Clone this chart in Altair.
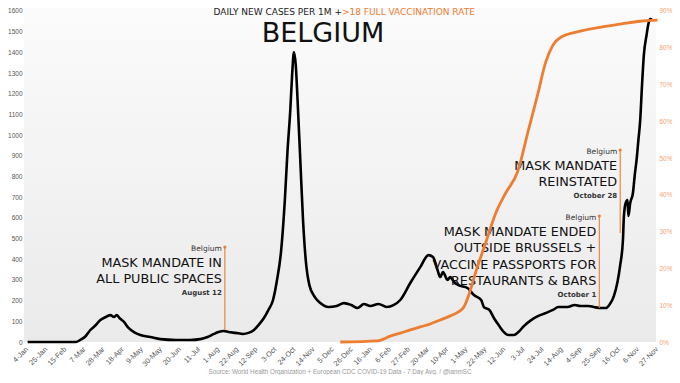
import altair as alt
import pandas as pd

ORANGE = "#ED7D31"

# ---- daily new cases per 1M (7-day avg) ----
case_dates = [
    "2020-01-08", "2020-03-01", "2020-03-06", "2020-03-12", "2020-03-17", "2020-03-23",
    "2020-03-28", "2020-04-03", "2020-04-08", "2020-04-12", "2020-04-15", "2020-04-18",
    "2020-04-23", "2020-04-28", "2020-05-04", "2020-05-11", "2020-05-22", "2020-06-02",
    "2020-06-19", "2020-07-05", "2020-07-16", "2020-07-24", "2020-07-31", "2020-08-05",
    "2020-08-11", "2020-08-16", "2020-08-24", "2020-09-01", "2020-09-07", "2020-09-13",
    "2020-09-18", "2020-09-24", "2020-09-29", "2020-10-04", "2020-10-08", "2020-10-13",
    "2020-10-17", "2020-10-20", "2020-10-23", "2020-10-25", "2020-10-27", "2020-10-29",
    "2020-10-31", "2020-11-03", "2020-11-06", "2020-11-09", "2020-11-13", "2020-11-19",
    "2020-11-25", "2020-12-04", "2020-12-13", "2020-12-21", "2020-12-29",
    "2021-01-05", "2021-01-12", "2021-01-19", "2021-01-28", "2021-02-06", "2021-02-14",
    "2021-02-21", "2021-03-04", "2021-03-15", "2021-03-24", "2021-03-29", "2021-04-03",
    "2021-04-06", "2021-04-09", "2021-04-14", "2021-04-17", "2021-04-21", "2021-04-26",
    "2021-05-06", "2021-05-13", "2021-05-21", "2021-05-24", "2021-05-30", "2021-06-04",
    "2021-06-10", "2021-06-15", "2021-06-20", "2021-06-26", "2021-07-01", "2021-07-07",
    "2021-07-15", "2021-07-23", "2021-07-31", "2021-08-08", "2021-08-14", "2021-08-24",
    "2021-09-01", "2021-09-07", "2021-09-16", "2021-09-22", "2021-09-30", "2021-10-05",
    "2021-10-09", "2021-10-14", "2021-10-18", "2021-10-21", "2021-10-24", "2021-10-25",
    "2021-10-27", "2021-10-29", "2021-10-30", "2021-11-01", "2021-11-04", "2021-11-06",
    "2021-11-08", "2021-11-10", "2021-11-12", "2021-11-14", "2021-11-16", "2021-11-19",
    "2021-11-21", "2021-11-23", "2021-11-25",
]
case_values = [
    0, 0, 10, 29, 58, 82,
    106, 121, 130, 121, 130, 116,
    97, 68, 48, 34, 24, 14,
    10, 10, 14, 24, 39, 48,
    53, 48, 44, 39, 44, 58,
    82, 116, 155, 203, 290, 445,
    686, 928, 1121, 1290, 1402, 1339,
    1170, 880, 590, 396, 275, 217,
    188, 169, 174, 188, 179,
    164, 184, 174, 184, 169, 179,
    203, 285, 362, 420, 411, 348,
    314, 338, 300, 314, 290, 275,
    261, 227, 203, 169, 155, 116,
    77, 48, 34, 34, 48, 77,
    106, 126, 140, 155, 169, 169,
    179, 174, 174, 169, 164, 164,
    179, 222, 290, 372, 493, 604,
    672, 686, 609, 672, 720, 807,
    880, 976, 1073, 1242, 1387, 1484,
    1537, 1561, 1556,
]
assert len(case_dates) == len(case_values)

# ---- >18 full vaccination rate (%) ----
vax_dates = [
    "2020-12-17", "2021-01-27", "2021-02-10", "2021-02-21", "2021-03-04", "2021-03-15",
    "2021-03-26", "2021-04-06", "2021-04-17", "2021-04-26", "2021-05-02", "2021-05-07",
    "2021-05-15", "2021-05-26", "2021-06-06", "2021-06-17", "2021-06-30", "2021-07-12",
    "2021-07-22", "2021-07-31", "2021-08-08", "2021-08-17", "2021-09-07", "2021-09-30",
    "2021-10-21", "2021-11-12", "2021-12-01",
]
vax_values = [
    0, 0.3, 1.6, 2.4, 3.3, 4.1,
    4.9, 6.0, 7.1, 8.2, 9.5, 12.5,
    19.0, 27.0, 35.0, 40.5, 46.2, 57.6,
    67.1, 76.1, 80.7, 82.9, 84.5, 85.6,
    86.4, 87.2, 87.5,
]
assert len(vax_dates) == len(vax_values)

# ---- annotations ----
ann_dates = ["2020-08-12", "2021-09-28", "2021-10-21"]
ann_top = [459, 609, 928]
ann_bottom = [58, 164, 527]
ann_country = ["Belgium", "Belgium", "Belgium"]
ann_lines = [
    ["MASK MANDATE IN", "ALL PUBLIC SPACES"],
    ["MASK MANDATE ENDED", "OUTSIDE BRUSSELS +", "VACCINE PASSPORTS FOR", "RESTAURANTS & BARS"],
    ["MASK MANDATE", "REINSTATED"],
]
ann_labels = ["August 12", "October 1", "October 28"]

tick_dates = pd.date_range("2020-01-04", "2021-11-27", freq="21D")
left_ticks = list(range(0, 1700, 100))
right_ticks = list(range(0, 100, 10))

# ---- layout ----
W, H = 632, 334
Y_MAX = 1614.5
V_MAX = 90.8
UPP = Y_MAX / H  # data units per pixel on the left scale


def ms(s):
    return int(pd.Timestamp(s, tz="UTC").value // 10**6)


x_dom = [ms("2020-01-04"), ms("2021-11-29 09:00")]
x_scale = alt.Scale(type="utc", domain=x_dom, nice=False)
y_scale = alt.Scale(domain=[0, Y_MAX], nice=False, zero=True)
v_scale = alt.Scale(domain=[0, V_MAX], nice=False, zero=True)

cases = pd.DataFrame({"date": case_dates, "value": case_values})
vax = pd.DataFrame({"date": vax_dates, "pct": vax_values})
ann = pd.DataFrame({"date": ann_dates, "top": ann_top, "bottom": ann_bottom})

rows_small, rows_big, rows_lab = [], [], []
for d, t, c, lines, lab in zip(ann_dates, ann_top, ann_country, ann_lines, ann_labels):
    rows_small.append({"date": d, "y": t - 2 * UPP, "t": c})
    for i, ln in enumerate(lines):
        rows_big.append({"date": d, "y": t - (16 + 16.3 * i) * UPP, "t": ln})
    rows_lab.append({"date": d, "y": t - (16 + 16.3 * (len(lines) - 1) + 14) * UPP, "t": lab})

X_AXIS = alt.Axis(
    values=[ms(d) for d in tick_dates], labelExpr="utcFormat(datum.value, '%-d-%b')",
    labelAngle=-45, labelFontSize=7.3, labelColor="#555", labelFont="Liberation Sans",
    labelPadding=3, labelFlush=False, labelOverlap=False, title=None,
    domain=False, ticks=False, grid=False)
Y_AXIS = alt.Axis(
    values=left_ticks, orient="left", title=None, labelExpr="format(datum.value, 'd')",
    labelFontSize=6.5, labelColor="#555",
    labelFont="Liberation Sans", labelPadding=2, domain=False, ticks=False, grid=False,
    labelOverlap=False)
V_AXIS = alt.Axis(
    values=right_ticks, orient="right", title=None, labelExpr="datum.value + '%'",
    labelFontSize=6.5, labelColor="#F0A46E", labelFont="Liberation Sans", labelPadding=3,
    domain=False, ticks=False, grid=False, labelOverlap=False)


def X():
    return alt.X("date:T", scale=x_scale, axis=X_AXIS, title=None)


def Y(field):
    return alt.Y(field, scale=y_scale, axis=Y_AXIS, title=None)


bg = alt.Chart(pd.DataFrame({"a": [0]})).mark_rect(
    color=alt.Gradient(gradient="linear", x1=0, x2=0, y1=0, y2=1,
                       stops=[alt.GradientStop(color="#fbfbfb", offset=0),
                              alt.GradientStop(color="#eaeaea", offset=1)])
).encode(x=alt.value(0), x2=alt.value(W), y=alt.value(0), y2=alt.value(H))

line_cases = alt.Chart(cases).mark_line(color="black", strokeWidth=2.6, interpolate="monotone").encode(
    x=X(), y=Y("value:Q"))

rules = alt.Chart(ann).mark_rule(color=ORANGE, strokeWidth=1.1).encode(
    x=X(), y=Y("top:Q"), y2="bottom:Q")
dots = alt.Chart(ann).mark_circle(color=ORANGE, size=10, opacity=1).encode(
    x=X(), y=Y("top:Q"))

t_small = alt.Chart(pd.DataFrame(rows_small)).mark_text(
    align="right", baseline="middle", dx=-3, fontSize=7.5, font="DejaVu Sans", color="#333"
).encode(x=X(), y=Y("y:Q"), text="t:N")
t_big = alt.Chart(pd.DataFrame(rows_big)).mark_text(
    align="right", baseline="middle", dx=-3, fontSize=12.8, font="DejaVu Sans", color="#111"
).encode(x=X(), y=Y("y:Q"), text="t:N")
t_lab = alt.Chart(pd.DataFrame(rows_lab)).mark_text(
    align="right", baseline="middle", dx=-3, fontSize=7, font="DejaVu Sans", fontWeight="bold", color="#333"
).encode(x=X(), y=Y("y:Q"), text="t:N")

cases_layer = alt.layer(line_cases, rules, dots, t_small, t_big, t_lab)

line_vax = alt.Chart(vax).mark_line(color=ORANGE, strokeWidth=2.8, interpolate="monotone").encode(
    x=X(), y=alt.Y("pct:Q", scale=v_scale, axis=V_AXIS, title=None))

title_a = alt.Chart(pd.DataFrame({"t": ["DAILY NEW CASES PER 1M + "]})).mark_text(
    align="right", baseline="middle", fontSize=9, font="DejaVu Sans", color="#222"
).encode(x=alt.value(318), y=alt.value(4), text="t:N")
title_b = alt.Chart(pd.DataFrame({"t": [">18 FULL VACCINATION RATE"]})).mark_text(
    align="left", baseline="middle", fontSize=9, font="DejaVu Sans", color=ORANGE
).encode(x=alt.value(318), y=alt.value(4), text="t:N")
big_title = alt.Chart(pd.DataFrame({"t": ["BELGIUM"]})).mark_text(
    align="center", baseline="middle", fontSize=27, font="DejaVu Sans", color="#111"
).encode(x=alt.value(299), y=alt.value(26), text="t:N")
source = alt.Chart(pd.DataFrame({"t": ["Source: World Health Organization + European CDC COVID-19 Data - 7 Day Avg. / @ianmSC"]})).mark_text(
    align="center", baseline="middle", fontSize=6.3, font="Liberation Sans", color="#999"
).encode(x=alt.value(316), y=alt.value(364), text="t:N")

chart = alt.layer(
    bg, cases_layer, line_vax, title_a, title_b, big_title, source
).resolve_scale(y="independent").properties(
    width=W, height=H,
    autosize=alt.AutoSizeParams(type="none"),
    padding={"left": 16, "top": 0, "right": 16, "bottom": 33},
    background="white",
).configure_view(stroke=None)

chart.save("out.html", embed_options={"renderer": "svg", "actions": False})
